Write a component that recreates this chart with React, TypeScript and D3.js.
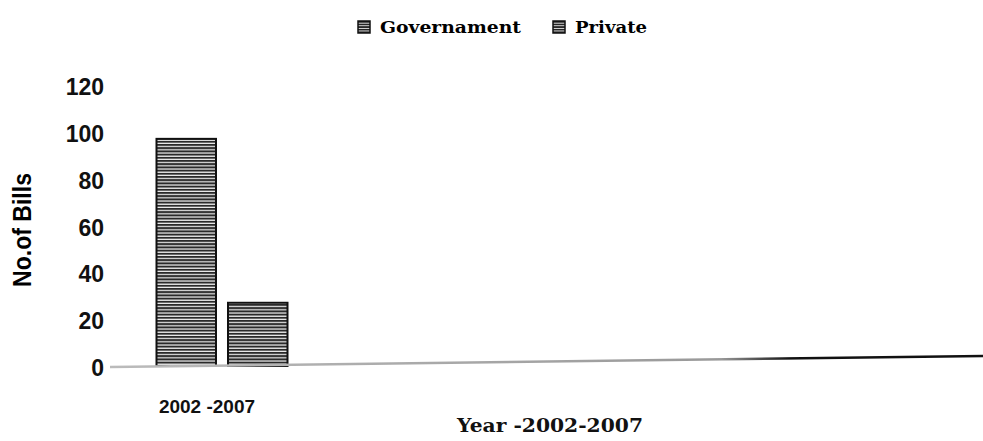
import React from 'react'
import * as d3 from 'd3'

// data
const categories = ['2002 -2007']
const seriesNames = ['Governament', 'Private']
const government = [97]
const privateBills = [27]
const yTicks = [0, 20, 40, 60, 80, 100, 120]

const width = 983
const height = 441

export default function App() {
  const margin = {left: 110, top: 85, bottom: 75}
  const y0 = height - margin.bottom

  const y = d3.scaleLinear().domain([0, 120]).range([y0, margin.top])

  // the one category only takes the first quarter of the plot
  const x = d3
    .scaleBand()
    .domain(categories)
    .range([margin.left, margin.left + 224])
    .paddingInner(0)
    .paddingOuter(0.355)

  const inner = d3
    .scaleBand()
    .domain(seriesNames)
    .range([0, x.bandwidth()])
    .paddingInner(0.168)

  const series = [government, privateBills]

  return (
    <svg
      width={width}
      height={height}
      style={{position: 'absolute', left: 0, top: 0, background: '#fff'}}
    >
      <defs>
        <pattern id="stripes" width="6" height="3.2" patternUnits="userSpaceOnUse">
          <rect width="6" height="3.2" fill="#f4f4f4" />
          <rect y="0" width="6" height="2" fill="#2a2a2a" />
        </pattern>
        <pattern id="stripesSmall" width="4" height="2.6" patternUnits="userSpaceOnUse">
          <rect width="4" height="2.6" fill="#eee" />
          <rect y="0" width="4" height="1.7" fill="#222" />
        </pattern>
        <linearGradient id="axisGrad" x1="0" x2="1" y1="0" y2="0">
          <stop offset="0" stopColor="#bbb" />
          <stop offset="0.7" stopColor="#999" />
          <stop offset="0.78" stopColor="#111" />
          <stop offset="1" stopColor="#111" />
        </linearGradient>
      </defs>

      {/* legend */}
      {seriesNames.map((name, i) => {
        const lx = i === 0 ? 358 : 553
        return (
          <g key={name} transform={`translate(${lx},21)`}>
            <rect width="12" height="12" fill="url(#stripesSmall)" stroke="#111" strokeWidth="1.5" />
            <text
              x="22"
              y="12"
              fontFamily="DejaVu Serif"
              fontWeight="bold"
              fontSize="17"
              textLength={i === 0 ? 141 : 72}
              lengthAdjust="spacingAndGlyphs"
            >
              {name}
            </text>
          </g>
        )
      })}

      {/* y axis title */}
      <text
        transform={`translate(31,230) rotate(-90)`}
        textAnchor="middle"
        fontFamily="Liberation Sans"
        fontWeight="bold"
        fontSize="25"
        textLength={114}
        lengthAdjust="spacingAndGlyphs"
      >
        No.of Bills
      </text>

      {/* y tick labels */}
      {yTicks.map(t => (
        <text
          key={t}
          x={margin.left - 6}
          y={y(t) + 2}
          textAnchor="end"
          dominantBaseline="central"
          fontFamily="Liberation Sans"
          fontWeight="bold"
          fontSize="23"
          fill="#111"
        >
          {t}
        </text>
      ))}

      {/* bars */}
      {categories.map((c, ci) => (
        <g key={c} transform={`translate(${x(c)},0)`}>
          {seriesNames.map((s, si) => (
            <rect
              key={s}
              x={inner(s)}
              y={y(series[si][ci])}
              width={inner.bandwidth()}
              height={y(0) - y(series[si][ci])}
              fill="url(#stripes)"
              stroke="#111"
              strokeWidth="2"
            />
          ))}
        </g>
      ))}

      {/* baseline, slightly skewed like the scan */}
      <line
        x1={margin.left}
        x2={width}
        y1={y(0) + 1}
        y2={y(0) - 10}
        stroke="url(#axisGrad)"
        strokeWidth="2.5"
      />

      {/* category labels */}
      {categories.map(c => (
        <text
          key={c}
          x={(x(c) || 0) + x.bandwidth() / 2 - 15}
          y={413}
          textAnchor="middle"
          fontFamily="Liberation Sans"
          fontWeight="bold"
          fontSize="19"
          fill="#111"
        >
          {c}
        </text>
      ))}

      {/* x axis title */}
      <text
        x={550}
        y={432}
        textAnchor="middle"
        fontFamily="DejaVu Serif"
        fontWeight="bold"
        fontSize="19"
        textLength={186}
        lengthAdjust="spacingAndGlyphs"
        fill="#111"
      >
        Year -2002-2007
      </text>
    </svg>
  )
}
